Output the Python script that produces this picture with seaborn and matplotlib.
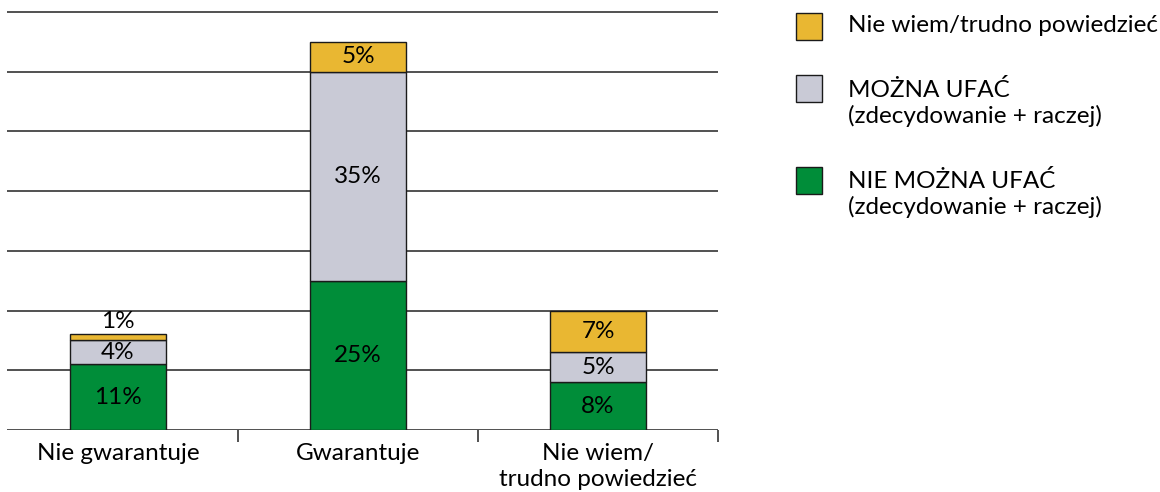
import matplotlib
matplotlib.use("Agg")
import matplotlib.pyplot as plt
from matplotlib.patches import Rectangle
import seaborn as sns
import pandas as pd
import numpy as np

categories = ["Nie gwarantuje", "Gwarantuje", "Nie wiem/\ntrudno powiedzieć"]
nie_mozna_ufac = [11, 25, 8]
mozna_ufac = [4, 35, 5]
nie_wiem = [1, 5, 7]

series_labels = [
    "NIE MOŻNA UFAĆ\n(zdecydowanie + raczej)",
    "MOŻNA UFAĆ\n(zdecydowanie + raczej)",
    "Nie wiem/trudno powiedzieć",
]
colors = ["#008d39", "#c9cad6", "#e9b732"]

sns.set_theme(style="white")
plt.rcParams["font.family"] = ["Lato", "DejaVu Sans"]

W, H = 1160, 492
FS = 17.5
fig = plt.figure(figsize=(W / 100, H / 100), dpi=100)
# axes placed in pixel terms: x from 7 to 718, y from 6 to 430
ax = fig.add_axes([7 / W, (H - 430) / H, 711 / W, 424 / H])

series = [nie_mozna_ufac, mozna_ufac, nie_wiem]
bottom = np.zeros(len(categories))
for vals, color in zip(series, colors):
    df = pd.DataFrame({"kat": categories, "val": vals})
    sns.barplot(data=df, x="kat", y="val", order=categories, color=color,
                width=0.4, bottom=bottom, edgecolor="#1a1a1a", linewidth=1,
                saturation=1, ax=ax, zorder=3)
    for i, v in enumerate(vals):
        if v < 3:
            # thin segment: label sits above the bar
            y = bottom[i] + v + 2.2
        else:
            y = bottom[i] + v / 2
        ax.text(i, y, f"{v}%", ha="center", va="center", fontsize=FS,
                color="black", zorder=4)
    bottom = bottom + np.array(vals)

ax.set_xlim(-0.4625, 2.5)
ax.set_ylim(0, 71)
ax.set_yticks(range(0, 80, 10))
ax.set_yticklabels([])
ax.tick_params(axis="y", length=0)
ax.grid(axis="y", color="#222222", linewidth=1.1, zorder=0)
ax.set_axisbelow(True)
for s in ["left", "right", "top", "bottom"]:
    ax.spines[s].set_visible(False)

ax.set_xlabel("")
ax.set_ylabel("")
ax.set_xticks(range(len(categories)))
ax.set_xticklabels(categories, fontsize=FS, color="black", linespacing=1.3)
ax.set_xticks([0.5, 1.5, 2.5], minor=True)
ax.tick_params(axis="x", which="major", length=0, pad=9.5)
ax.tick_params(axis="x", which="minor", length=8.5, width=1.1,
               color="#222222", direction="out", bottom=True)

# legend drawn on the right side
legend_items = [
    (colors[2], series_labels[2], 13, 26),
    (colors[1], series_labels[1], 75, 103),
    (colors[0], series_labels[0], 167, 194),
]
for color, label, sq_top, text_mid in legend_items:
    fig.patches.append(Rectangle((796 / W, 1 - (sq_top + 27) / H), 26 / W, 27 / H,
                                 transform=fig.transFigure, facecolor=color,
                                 edgecolor="#1a1a1a", linewidth=1))
    fig.text(848 / W, 1 - text_mid / H, label, ha="left", va="center",
             fontsize=FS, color="black", linespacing=1.25)

fig.savefig("out.png", dpi=100)
